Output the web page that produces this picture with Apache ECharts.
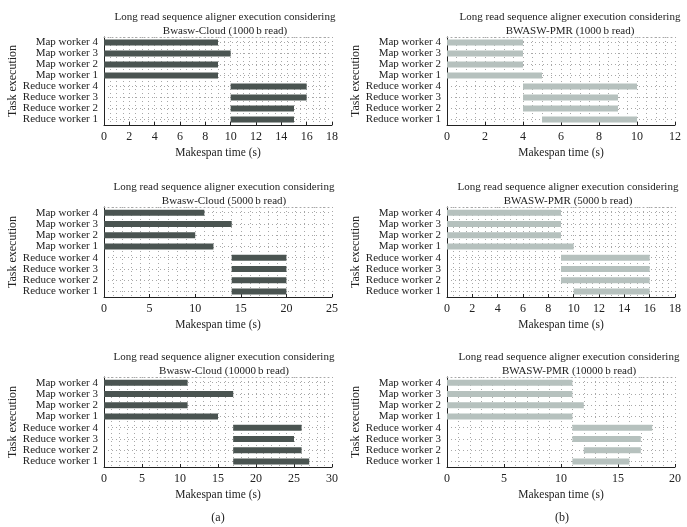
<!DOCTYPE html>
<html>
<head>
<meta charset="utf-8">
<script src="https://cdn.jsdelivr.net/npm/echarts@6/dist/echarts.min.js"></script>
<style>
html,body{margin:0;padding:0;background:#fff;}
#chart{width:687px;height:527px;}
</style>
</head>
<body>
<div id="chart"></div>
<script>
// Categories, bottom to top
const categories = ['Reduce worker 1', 'Reduce worker 2', 'Reduce worker 3', 'Reduce worker 4',
                    'Map worker 1', 'Map worker 2', 'Map worker 3', 'Map worker 4'];

// Panel titles
const panelTitles = [
  'Long read sequence aligner execution considering\nBwasw-Cloud (1000\u2009b read)',
  'Long read sequence aligner execution considering\nBWASW-PMR (1000\u2009b read)',
  'Long read sequence aligner execution considering\nBwasw-Cloud (5000\u2009b read)',
  'Long read sequence aligner execution considering\nBWASW-PMR (5000\u2009b read)',
  'Long read sequence aligner execution considering\nBwasw-Cloud (10000\u2009b read)',
  'Long read sequence aligner execution considering\nBWASW-PMR (10000\u2009b read)'
];

// Start / end times (s), same order as categories
const cloud1000Start = [10, 10, 10, 10, 0, 0, 0, 0];
const cloud1000End   = [15, 15, 16, 16, 9, 9, 10, 9];
const pmr1000Start   = [5, 4, 4, 4, 0, 0, 0, 0];
const pmr1000End     = [10, 9, 9, 10, 5, 4, 4, 4];
const cloud5000Start = [14, 14, 14, 14, 0, 0, 0, 0];
const cloud5000End   = [20, 20, 20, 20, 12, 10, 14, 11];
const pmr5000Start   = [10, 9, 9, 9, 0, 0, 0, 0];
const pmr5000End     = [16, 16, 16, 16, 10, 9, 9, 9];
const cloud10000Start = [17, 17, 17, 17, 0, 0, 0, 0];
const cloud10000End   = [27, 26, 25, 26, 15, 11, 17, 11];
const pmr10000Start   = [11, 12, 11, 11, 0, 0, 0, 0];
const pmr10000End     = [16, 17, 17, 18, 11, 12, 11, 11];

// Axis tick settings
const axisMax = [18, 12, 25, 18, 30, 20];
const axisInterval = [2, 2, 5, 2, 5, 5];
const minorSplits = [4, 4, 5, 4, 5, 5];

const panelStarts = [cloud1000Start, pmr1000Start, cloud5000Start, pmr5000Start, cloud10000Start, pmr10000Start];
const panelEnds = [cloud1000End, pmr1000End, cloud5000End, pmr5000End, cloud10000End, pmr10000End];

const DARK = '#4a5451';
const LIGHT = '#b6c1be';
const FONT = '"Liberation Serif", "DejaVu Serif", serif';
const dotted = { color: '#a8a8a8', width: 1, type: [1, 3] };

const gridPos = [
  { left: 104, top: 37, width: 228, height: 88 },
  { left: 447, top: 37, width: 228, height: 88 },
  { left: 104, top: 207, width: 228, height: 90 },
  { left: 447, top: 207, width: 228, height: 90 },
  { left: 104, top: 377, width: 228, height: 90 },
  { left: 447, top: 377, width: 228, height: 90 }
];
const titleX = [220, 565, 219, 563, 219, 564];
const titleTop = [5, 5, 175, 175, 345, 345];

const grids = [], xAxes = [], yAxes = [], series = [], titles = [];
for (let i = 0; i < 6; i++) {
  grids.push(Object.assign({ containLabel: false }, gridPos[i]));
  titles.push({
    text: panelTitles[i], left: titleX[i], top: titleTop[i], textAlign: 'center',
    textStyle: { fontFamily: FONT, fontSize: 11, fontWeight: 'normal', color: '#222', lineHeight: 14 }
  });
  xAxes.push({
    type: 'value', gridIndex: i, min: 0, max: axisMax[i], interval: axisInterval[i],
    name: 'Makespan time (s)', nameLocation: 'middle', nameGap: 22,
    nameTextStyle: { fontFamily: FONT, fontSize: 11.5, color: '#222' },
    axisLine: { show: true, lineStyle: { color: '#222', width: 1 } },
    axisTick: { show: true, inside: true, length: 3, lineStyle: { color: '#222' } },
    axisLabel: { fontFamily: FONT, fontSize: 12, color: '#222', margin: 6 },
    splitLine: { show: true, lineStyle: dotted },
    minorTick: { show: false, splitNumber: minorSplits[i] },
    minorSplitLine: { show: true, lineStyle: dotted }
  });
  // top dotted border
  xAxes.push({
    type: 'value', gridIndex: i, position: 'top', min: 0, max: axisMax[i], interval: axisInterval[i],
    axisLine: { show: true, lineStyle: dotted },
    axisTick: { show: false }, axisLabel: { show: false }, splitLine: { show: false }
  });
  yAxes.push({
    type: 'category', gridIndex: i, data: categories,
    name: 'Task execution', nameLocation: 'middle', nameGap: 80, nameRotate: 90,
    nameTextStyle: { fontFamily: FONT, fontSize: 12, color: '#222' },
    axisLine: { show: true, lineStyle: { color: '#222', width: 1 } },
    axisTick: { show: false },
    axisLabel: { interval: 0, fontFamily: FONT, fontSize: 11, color: '#222', margin: 6 },
    splitLine: { show: true, interval: 0, alignWithLabel: true, lineStyle: dotted }
  });
  const color = (i % 2 === 0) ? DARK : LIGHT;
  const starts = panelStarts[i], ends = panelEnds[i];
  series.push({
    type: 'bar', xAxisIndex: 2 * i, yAxisIndex: i, stack: 's' + i, barWidth: 6,
    itemStyle: { color: 'transparent' }, silent: true, data: starts
  });
  series.push({
    type: 'bar', xAxisIndex: 2 * i, yAxisIndex: i, stack: 's' + i, barWidth: 6,
    itemStyle: { color: color }, data: ends.map((e, k) => e - starts[k])
  });
}
titles.push({ text: '(a)', left: 213, top: 507, textAlign: 'center',
  textStyle: { fontFamily: FONT, fontSize: 12, fontWeight: 'normal', color: '#222' } });
titles.push({ text: '(b)', left: 557, top: 507, textAlign: 'center',
  textStyle: { fontFamily: FONT, fontSize: 12, fontWeight: 'normal', color: '#222' } });

const chart = echarts.init(document.getElementById('chart'), null, { renderer: 'canvas' });
chart.setOption({
  animation: false,
  backgroundColor: '#fff',
  title: titles,
  grid: grids,
  xAxis: xAxes,
  yAxis: yAxes,
  series: series
});
</script>
</body>
</html>
